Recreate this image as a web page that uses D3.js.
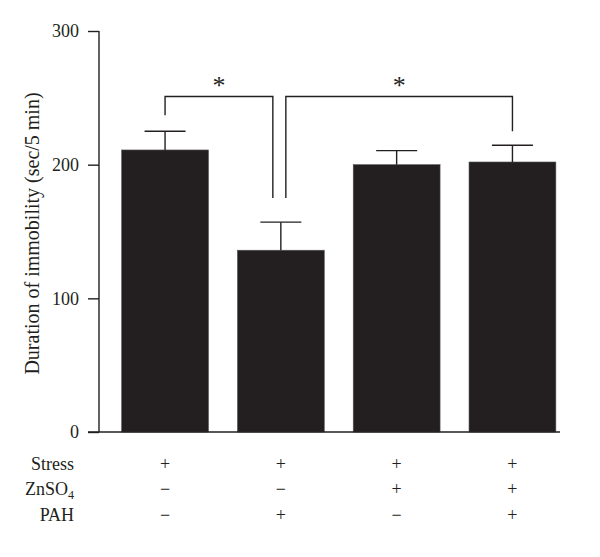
<!DOCTYPE html>
<html>
<head>
<meta charset="utf-8">
<script src="https://cdn.jsdelivr.net/npm/d3@7"></script>
<style>
  html, body { margin: 0; padding: 0; background: #fff; }
  svg { display: block; }
  text { font-family: "Liberation Serif", "DejaVu Serif", serif; fill: #231f20; }
</style>
</head>
<body>
<div id="chart"></div>
<script>
// ---- data ----
const groups = ["G1", "G2", "G3", "G4"];
const means = [211, 136, 200, 202];
const sems = [14, 21, 10.5, 12.5];
const yTicks = [0, 100, 200, 300];
const yLabel = "Duration of immobility (sec/5 min)";
const rowLabels = ["Stress", "ZnSO4", "PAH"];
const stressRow = ["+", "+", "+", "+"];
const znRow = ["\u2212", "\u2212", "+", "+"];
const pahRow = ["\u2212", "+", "\u2212", "+"];
// significance brackets
const brackets = [
  { from: "G1", to: "G2", level: 251, leftEnd: 237, rightEnd: 175, fromOff: 0, toOff: -8 },
  { from: "G2", to: "G4", level: 251, leftEnd: 175, rightEnd: 225, fromOff: 5, toOff: 0 }
];

// ---- layout ----
const W = 600, H = 557;
const svg = d3.select("#chart").append("svg").attr("width", W).attr("height", H);
const ink = "#231f20";

const x = d3.scaleBand().domain(groups).range([106, 571.5]).paddingInner(0.25).paddingOuter(0.135);
const y = d3.scaleLinear().domain([0, 300]).range([432, 31]);

// bars
svg.selectAll("rect.bar").data(groups).join("rect")
  .attr("class", "bar")
  .attr("x", d => x(d))
  .attr("y", (d, i) => y(means[i]))
  .attr("width", x.bandwidth())
  .attr("height", (d, i) => y(0) - y(means[i]))
  .attr("fill", ink)
  .attr("stroke", "#555")
  .attr("stroke-width", 0.6);

// error bars
const capW = 41;
const eb = svg.append("g").attr("stroke", ink).attr("stroke-width", 1.4);
groups.forEach((g, i) => {
  const cx = x(g) + x.bandwidth() / 2;
  eb.append("line").attr("x1", cx).attr("x2", cx).attr("y1", y(means[i])).attr("y2", y(means[i] + sems[i]));
  eb.append("line").attr("x1", cx - capW / 2).attr("x2", cx + capW / 2)
    .attr("y1", y(means[i] + sems[i])).attr("y2", y(means[i] + sems[i]));
});

// y axis
const yAxis = d3.axisLeft(y).tickValues(yTicks).tickSize(11).tickPadding(9);
const ga = svg.append("g").attr("transform", "translate(99,0)").call(yAxis);
ga.select(".domain").remove();
ga.selectAll(".tick line").attr("stroke", ink).attr("stroke-width", 1.4);
ga.selectAll(".tick text").attr("font-size", 18).attr("fill", ink)
  .style("font-family", "'Liberation Serif', serif");
svg.append("line").attr("x1", 99).attr("x2", 99).attr("y1", y(300)).attr("y2", y(0))
  .attr("stroke", ink).attr("stroke-width", 1.4);
svg.append("line").attr("x1", 88).attr("x2", 560).attr("y1", y(0)).attr("y2", y(0))
  .attr("stroke", ink).attr("stroke-width", 1.4);

// y label
svg.append("text")
  .attr("transform", `translate(39,${(y(0) + y(300)) / 2 + 2}) rotate(-90)`)
  .attr("text-anchor", "middle")
  .attr("font-size", 20)
  .text(yLabel);

// brackets
const bg = svg.append("g").attr("fill", "none").attr("stroke", ink).attr("stroke-width", 1.4);
brackets.forEach(b => {
  const x1 = x(b.from) + x.bandwidth() / 2 + b.fromOff;
  const x2 = x(b.to) + x.bandwidth() / 2 + b.toOff;
  bg.append("path").attr("d",
    `M${x1},${y(b.leftEnd)}V${y(b.level)}H${x2}V${y(b.rightEnd)}`);
  svg.append("text")
    .attr("x", (x1 + x2) / 2)
    .attr("y", y(b.level) - 2)
    .attr("text-anchor", "middle")
    .attr("font-size", 26)
    .text("*");
});

// treatment rows
const rows = [stressRow, znRow, pahRow];
const rowY = [470, 495, 521];
rows.forEach((row, r) => {
  const t = svg.append("text").attr("x", 74).attr("y", rowY[r])
    .attr("text-anchor", "end").attr("font-size", 18);
  if (rowLabels[r] === "ZnSO4") {
    t.append("tspan").text("ZnSO");
    t.append("tspan").attr("font-size", 12).attr("dy", 4).text("4");
  } else {
    t.text(rowLabels[r]);
  }
  row.forEach((s, i) => {
    svg.append("text")
      .attr("x", x(groups[i]) + x.bandwidth() / 2)
      .attr("y", rowY[r])
      .attr("text-anchor", "middle")
      .attr("font-size", 18)
      .text(s);
  });
});
</script>
</body>
</html>
